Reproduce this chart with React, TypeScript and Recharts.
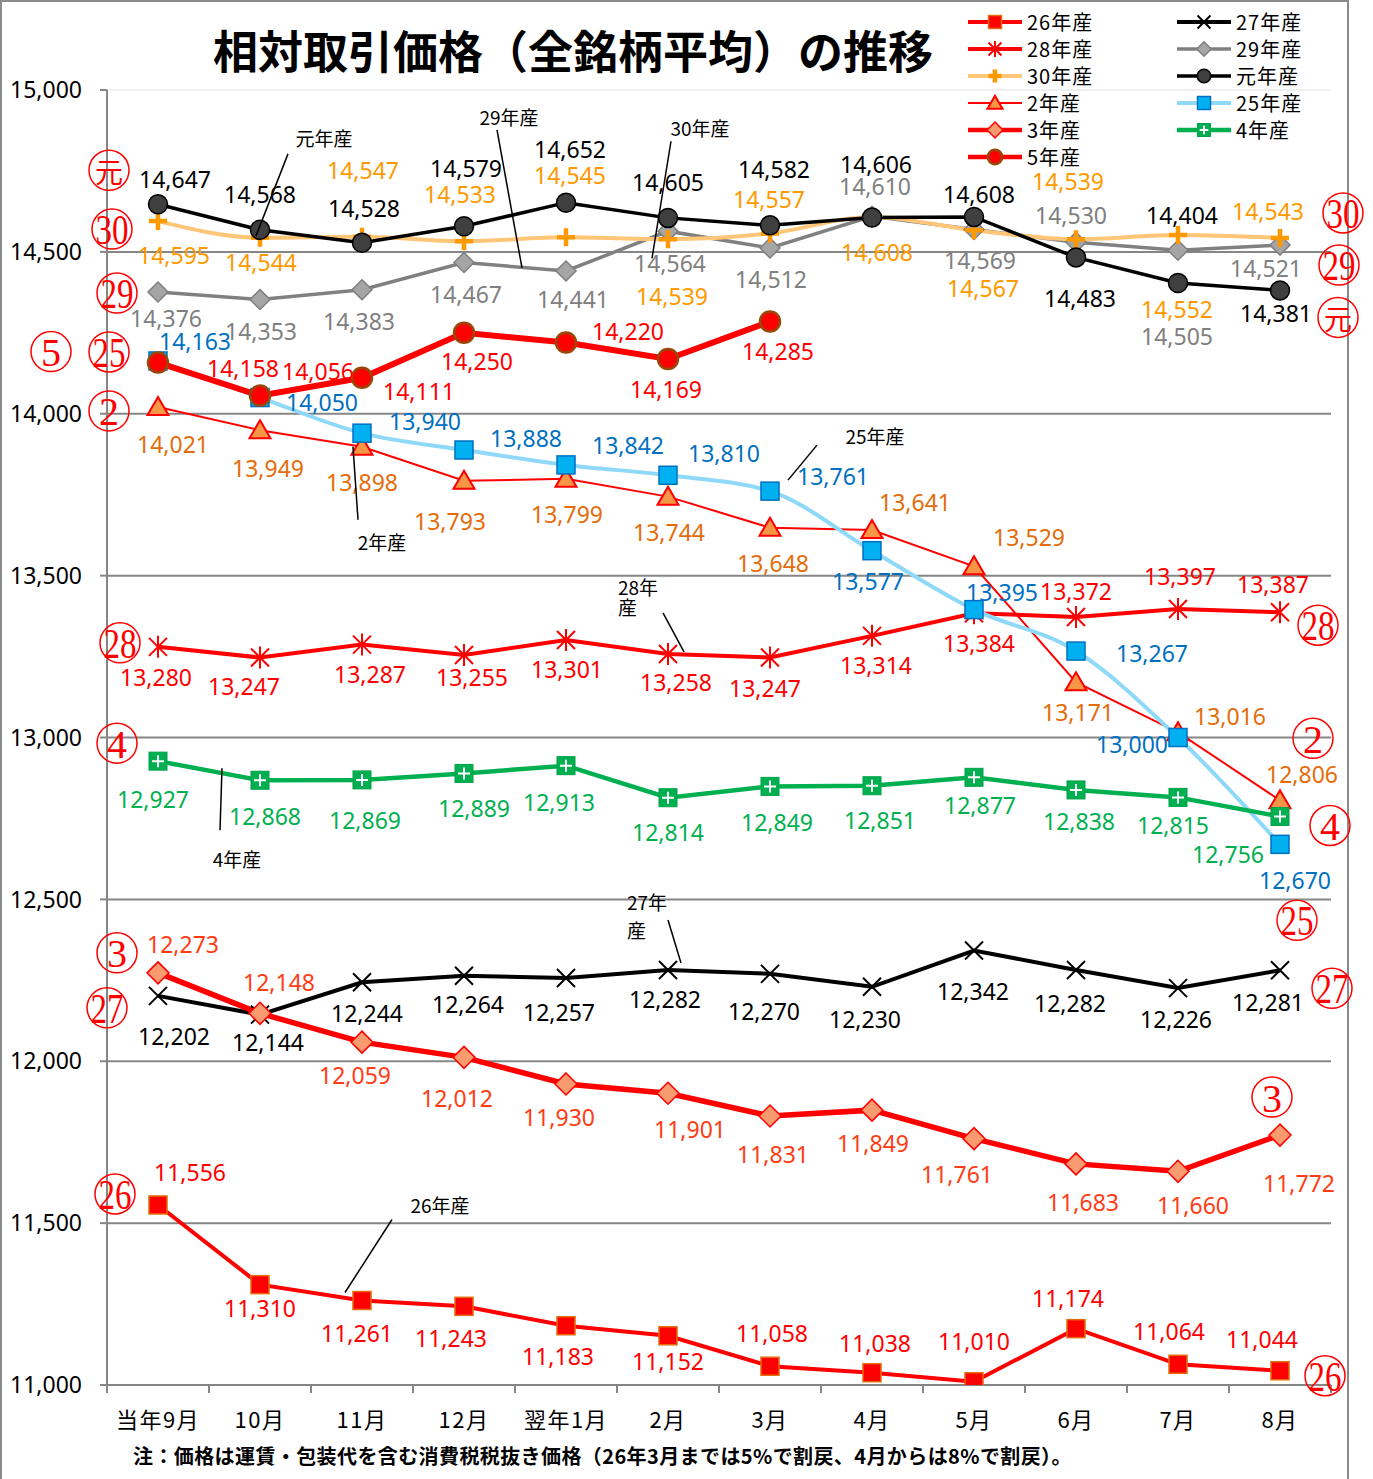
import React from "react";
import { LineChart, Line, XAxis, YAxis, ReferenceLine, LabelList, Legend } from "recharts";

const months = ["当年9月", "10月", "11月", "12月", "翌年1月", "2月", "3月", "4月", "5月", "6月", "7月", "8月"];
const yTicks = [11000, 11500, 12000, 12500, 13000, 13500, 14000, 14500, 15000];

// 相対取引価格 (円/60kg)
const v26 = [11556, 11310, 11261, 11243, 11183, 11152, 11058, 11038, 11010, 11174, 11064, 11044];
const v27 = [12202, 12144, 12244, 12264, 12257, 12282, 12270, 12230, 12342, 12282, 12226, 12281];
const v28 = [13280, 13247, 13287, 13255, 13301, 13258, 13247, 13314, 13384, 13372, 13397, 13387];
const v29 = [14376, 14353, 14383, 14467, 14441, 14564, 14512, 14610, 14569, 14530, 14505, 14521];
const v30 = [14595, 14544, 14547, 14533, 14545, 14539, 14557, 14608, 14567, 14539, 14552, 14543];
const vG = [14647, 14568, 14528, 14579, 14652, 14605, 14582, 14606, 14608, 14483, 14404, 14381];
const v2 = [14021, 13949, 13898, 13793, 13799, 13744, 13648, 13641, 13529, 13171, 13016, 12806];
const v25 = [14163, 14050, 13940, 13888, 13842, 13810, 13761, 13577, 13395, 13267, 13000, 12670];
const v3 = [12273, 12148, 12059, 12012, 11930, 11901, 11831, 11849, 11761, 11683, 11660, 11772];
const v4 = [12927, 12868, 12869, 12889, 12913, 12814, 12849, 12851, 12877, 12838, 12815, 12756];
const v5 = [14158, 14056, 14111, 14250, 14220, 14169, 14285];

// label offsets from each point (dx, dy)
const pos26 = [[32, -33], [0, 23], [-5, 32], [-13, 32], [-8, 30], [0, 25], [2, -33], [3, -30], [0, -41], [-8, -31], [-9, -33], [-18, -32]];
const pos27 = [[16, 40], [8, 27], [5, 31], [4, 28], [-7, 34], [-3, 29], [-6, 37], [-7, 32], [-1, 40], [-6, 33], [-2, 31], [-12, 32]];
const pos28 = [[-2, 30], [-16, 28], [8, 29], [8, 22], [1, 29], [8, 28], [-5, 30], [4, 29], [5, 30], [0, -26], [2, -33], [-7, -28]];
const pos29 = [[8, 26], [1, 32], [-3, 31], [2, 31], [7, 28], [2, 32], [1, 31], [3, -30], [6, 30], [-5, -27], [-1, 86], [-14, 23]];
const pos30 = [[16, 34], [1, 24], [1, -67], [-4, -47], [4, -62], [4, 57], [-1, -34], [5, 35], [9, 58], [-8, -58], [-1, 74], [-12, -27]];
const posG = [[17, -25], [0, -36], [2, -35], [2, -58], [4, -54], [0, -36], [4, -56], [4, -54], [5, -23], [4, 41], [4, -68], [-4, 23]];
const pos2 = [[15, 37], [8, 38], [0, 35], [-14, 40], [1, 35], [1, 35], [3, 35], [43, -28], [55, -29], [2, 30], [52, -16], [22, -26]];
const pos25 = [[37, -20], [62, 4], [63, -12], [62, -12], [62, -20], [56, -22], [63, -15], [-4, 30], [28, -18], [76, 2], [-46, 6], [15, 36]];
const pos3 = [[25, -29], [19, -31], [-7, 33], [-7, 41], [-7, 33], [22, 36], [3, 38], [1, 33], [-17, 35], [7, 38], [15, 34], [19, 48]];
const pos4 = [[-5, 38], [5, 36], [3, 40], [10, 35], [-7, 36], [0, 34], [7, 36], [8, 34], [6, 28], [3, 31], [-5, 28], [-52, 38]];
const pos5 = [[85, 5], [58, -25], [57, 13], [13, 28], [62, -12], [-2, 30], [8, 30]];

const CHART_W = 1373;
const CHART_H = 1479;
const Y_W = 107;
const RIGHT_M = 42;
const BAND = (CHART_W - Y_W - RIGHT_M) / months.length;

const NUM_FONT = "'Noto Sans', sans-serif";
const JP_FONT = "'Noto Sans CJK JP', sans-serif";
const GRID = "#868686";

type Callout = { i: number; text: string[]; tx: number; ty: number; gap?: number; anchor?: string; l: number[] };
type Series = {
  key: string; name: string; values: number[]; pos: number[][];
  stroke: string; width: number; curve: "linear" | "monotone"; kind: string; color: string;
  mark: string; left?: number[]; right?: number[]; callout?: Callout;
};

const series: Series[] = [
  { key: "s26", name: "26年産", values: v26, pos: pos26, stroke: "#FF0000", width: 4, curve: "linear", kind: "sq26", color: "#FF0000",
    mark: "26", left: [-43, -11], right: [45, 5], callout: { i: 2, text: ["26年産"], tx: 78, ty: -96, l: [30, -81, -17, -8] } },
  { key: "s27", name: "27年産", values: v27, pos: pos27, stroke: "#000000", width: 4, curve: "linear", kind: "x27", color: "#000000",
    mark: "27", left: [-51, 12], right: [52, 18], callout: { i: 5, text: ["27年", "産"], tx: -41, ty: -68, gap: 28, anchor: "start", l: [0, -50, 13, -7] } },
  { key: "s28", name: "28年産", values: v28, pos: pos28, stroke: "#FF0000", width: 4, curve: "linear", kind: "ast28", color: "#FF0000",
    mark: "28", left: [-38, -4], right: [38, 13], callout: { i: 5, text: ["28年", "産"], tx: -50, ty: -67, gap: 20, anchor: "start", l: [-5, -41, 16, -2] } },
  { key: "s29", name: "29年産", values: v29, pos: pos29, stroke: "#808080", width: 3.5, curve: "linear", kind: "dia29", color: "#808080",
    mark: "29", left: [-41, 1], right: [59, 20], callout: { i: 4, text: ["29年産"], tx: -57, ty: -154, l: [-69, -141, -44, -3] } },
  { key: "s30", name: "30年産", values: v30, pos: pos30, stroke: "#FFC677", width: 4, curve: "monotone", kind: "plus30", color: "#FF9900",
    mark: "30", left: [-46, 8], right: [63, -25], callout: { i: 5, text: ["30年産"], tx: 32, ty: -112, l: [3, -98, -16, 19] } },
  { key: "sG", name: "元年産", values: vG, pos: posG, stroke: "#000000", width: 3.5, curve: "linear", kind: "dotG", color: "#000000",
    mark: "元", left: [-49, -34], right: [58, 27], callout: { i: 1, text: ["元年産"], tx: 64, ty: -92, l: [28, -76, -4, 6] } },
  { key: "s2", name: "2年産", values: v2, pos: pos2, stroke: "#FF0000", width: 2, curve: "linear", kind: "tri2", color: "#E46C0A",
    mark: "2", left: [-49, 4], right: [33, -62], callout: { i: 2, text: ["2年産"], tx: 20, ty: 95, l: [-9, 0, -4, 73] } },
  { key: "s25", name: "25年産", values: v25, pos: pos25, stroke: "#8ED8F8", width: 4, curve: "monotone", kind: "sq25", color: "#0070C0",
    mark: "25", left: [-49, -9], right: [17, 76], callout: { i: 6, text: ["25年産"], tx: 105, ty: -56, l: [47, -46, 18, -11] } },
  { key: "s3", name: "3年産", values: v3, pos: pos3, stroke: "#FF0000", width: 5.5, curve: "linear", kind: "dia3", color: "#FF3C14",
    mark: "3", left: [-41, -20], right: [-8, -38] },
  { key: "s4", name: "4年産", values: v4, pos: pos4, stroke: "#00B050", width: 4.5, curve: "linear", kind: "sq4", color: "#00B050",
    mark: "4", left: [-41, -18], right: [50, 9], callout: { i: 1, text: ["4年産"], tx: -23, ty: 78, l: [-40, 50, -38, -12] } },
  { key: "s5", name: "5年産", values: v5, pos: pos5, stroke: "#FF0000", width: 6, curve: "linear", kind: "dot5", color: "#FF0000",
    mark: "5", left: [-107, -11] },
];

const data = months.map((m, i) => {
  const row: Record<string, any> = { month: m };
  series.forEach((s) => (row[s.key] = s.values[i] ?? null));
  return row;
});

function Marker({ kind, x, y, k = 1 }: { kind: string; x: number; y: number; k?: number }) {
  const h = 9 * k;
  switch (kind) {
    case "sq26":
      return <rect x={x - h} y={y - h} width={2 * h} height={2 * h} fill="#FF0000" stroke="#E46C0A" strokeWidth={1.5} />;
    case "x27":
      return <path d={`M${x - h},${y - h}L${x + h},${y + h}M${x - h},${y + h}L${x + h},${y - h}`} stroke="#000" strokeWidth={2} />;
    case "ast28":
      return (
        <path d={`M${x - h},${y - h}L${x + h},${y + h}M${x - h},${y + h}L${x + h},${y - h}M${x},${y - 11 * k}L${x},${y + 11 * k}`}
          stroke="#FF0000" strokeWidth={2} />
      );
    case "dia29":
      return <polygon points={`${x},${y - 10 * k} ${x + 10 * k},${y} ${x},${y + 10 * k} ${x - 10 * k},${y}`} fill="#A5A5A5" stroke="#7F7F7F" strokeWidth={1.5} />;
    case "plus30":
      return <path d={`M${x - h},${y}L${x + h},${y}M${x},${y - h}L${x},${y + h}`} stroke="#FF9900" strokeWidth={4.5} />;
    case "dotG":
      return <circle cx={x} cy={y} r={9.5 * k} fill="#3F3F3F" stroke="#000" strokeWidth={1.5} />;
    case "tri2":
      return <polygon points={`${x},${y - 10 * k} ${x + 10.5 * k},${y + 8 * k} ${x - 10.5 * k},${y + 8 * k}`} fill="#F79646" stroke="#FF0000" strokeWidth={2} />;
    case "sq25":
      return <rect x={x - h} y={y - h} width={2 * h} height={2 * h} fill="#00B0F0" stroke="#0070C0" strokeWidth={1.5} />;
    case "dia3":
      return <polygon points={`${x},${y - 11 * k} ${x + 11 * k},${y} ${x},${y + 11 * k} ${x - 11 * k},${y}`} fill="#FA9A6F" stroke="#FF0000" strokeWidth={1.5} />;
    case "sq4":
      return (
        <g>
          <rect x={x - h} y={y - h} width={2 * h} height={2 * h} fill="#00B050" stroke="#00A048" strokeWidth={1} />
          <path d={`M${x - 6 * k},${y}L${x + 6 * k},${y}M${x},${y - 6 * k}L${x},${y + 6 * k}`} stroke="#fff" strokeWidth={2} />
        </g>
      );
    case "dot5":
      return <circle cx={x} cy={y} r={10 * k} fill="#FF0000" stroke="#984807" strokeWidth={2.5} />;
    default:
      return null;
  }
}

function Circled({ x, y, text }: { x: number; y: number; text: string }) {
  const two = /^\d\d$/.test(text);
  const cjk = !/^\d+$/.test(text);
  return (
    <g>
      <circle cx={x} cy={y} r={20} fill="none" stroke="#FF0000" strokeWidth={1.5} />
      <text
        x={x}
        y={y + 1}
        textAnchor="middle"
        dominantBaseline="central"
        fill="#FF0000"
        fontFamily={cjk ? JP_FONT : "'Liberation Serif', 'DejaVu Serif', serif"}
        fontSize={cjk ? 28 : two ? 42 : 40}
        {...(two ? { textLength: 33, lengthAdjust: "spacingAndGlyphs" } : {})}
      >
        {text}
      </text>
    </g>
  );
}

const fmt = (v: number) => v.toLocaleString("en-US");

function makeLabel(s: Series) {
  const last = s.values.length - 1;
  return (p: any) => {
    const { x, y, value, index } = p;
    if (value == null || x == null || y == null || index > last) return null;
    const [dx, dy] = s.pos[index];
    const c = s.callout;
    return (
      <g>
        <text x={x + dx} y={y + dy} textAnchor="middle" dominantBaseline="central" fill={s.color} fontFamily={NUM_FONT} fontSize={23}>
          {fmt(value)}
        </text>
        {index === 0 && s.left && <Circled x={x + s.left[0]} y={y + s.left[1]} text={s.mark} />}
        {index === last && s.right && <Circled x={x + s.right[0]} y={y + s.right[1]} text={s.mark} />}
        {c && c.i === index && (
          <g>
            <line x1={x + c.l[0]} y1={y + c.l[1]} x2={x + c.l[2]} y2={y + c.l[3]} stroke="#000" strokeWidth={1.5} />
            {c.text.map((t, j) => (
              <text key={j} x={x + c.tx} y={y + c.ty + j * (c.gap ?? 0)} textAnchor={c.anchor ?? "middle"} dominantBaseline="central"
                fill="#000" fontFamily={JP_FONT} fontSize={19}>
                {t}
              </text>
            ))}
          </g>
        )}
      </g>
    );
  };
}

function makeDot(s: Series) {
  return (p: any) => {
    const k = `dot-${s.key}-${p.index}`;
    if (p.value == null || p.cx == null || p.cy == null) return <g key={k} />;
    return (
      <g key={k}>
        <Marker kind={s.kind} x={p.cx} y={p.cy} />
      </g>
    );
  };
}

function MonthTick(p: any) {
  const { x, y, payload } = p;
  const idx = p.index ?? payload.index;
  const half = BAND / 2;
  return (
    <g>
      <line x1={x - half} x2={x - half} y1={y} y2={y + 8} stroke={GRID} strokeWidth={2} />
      {idx === months.length - 1 && <line x1={x + half} x2={x + half} y1={y} y2={y + 8} stroke={GRID} strokeWidth={2} />}
      <text x={x} y={y + 33} textAnchor="middle" dominantBaseline="central" fill="#000" fontFamily={JP_FONT} fontSize={22} letterSpacing={1.5}>
        {payload.value}
      </text>
    </g>
  );
}

function LegendBox() {
  return (
    <div style={{ display: "grid", gridTemplateColumns: "209px 170px" }}>
      {series.map((s) => (
        <div key={s.key} style={{ display: "flex", alignItems: "center", height: 27 }}>
          <svg width={58} height={22} style={{ display: "block" }}>
            <line x1={2} x2={56} y1={11} y2={11} stroke={s.stroke} strokeWidth={Math.min(s.width, 4.5)} />
            <Marker kind={s.kind} x={29} y={11} k={0.72} />
          </svg>
          <span style={{ marginLeft: 3, fontSize: 20, fontFamily: JP_FONT, color: "#000", letterSpacing: 1, lineHeight: "22px" }}>{s.name}</span>
        </div>
      ))}
    </div>
  );
}

export default function App() {
  return (
    <div style={{ position: "absolute", left: 0, top: 0, width: CHART_W, height: CHART_H, background: "#fff", overflow: "hidden" }}>
      <div style={{ position: "absolute", left: 0, top: 0, width: 1349, height: CHART_H + 10, border: "2px solid #8a8a8a", boxSizing: "border-box" }} />
      <div style={{ position: "absolute", left: 0, top: 0 }}>
        <LineChart width={CHART_W} height={CHART_H} data={data} margin={{ top: 90, right: RIGHT_M, bottom: 0, left: 0 }}>
          {yTicks
            .filter((t) => t > yTicks[0])
            .map((t) => (
              <ReferenceLine key={t} y={t} stroke={t === yTicks[yTicks.length - 1] ? "#EFEFEF" : GRID} strokeWidth={2} />
            ))}
          <XAxis dataKey="month" height={94} interval={0} tickLine={false} tickSize={0} tickMargin={0}
            padding={{ left: BAND / 2, right: BAND / 2 }}
            axisLine={{ stroke: GRID, strokeWidth: 2 }} tick={<MonthTick />} />
          <YAxis domain={[yTicks[0], yTicks[yTicks.length - 1]]} ticks={yTicks} width={Y_W} tickSize={7} tickMargin={18}
            axisLine={{ stroke: GRID, strokeWidth: 2 }} tickLine={{ stroke: GRID, strokeWidth: 2 }}
            tick={{ fill: "#000", fontSize: 23, fontFamily: NUM_FONT }} tickFormatter={fmt} allowDataOverflow />
          {series.map((s) => (
            <Line key={s.key} dataKey={s.key} name={s.name} type={s.curve} stroke={s.stroke} strokeWidth={s.width}
              dot={makeDot(s)} activeDot={false} isAnimationActive={false} connectNulls={false}>
              <LabelList dataKey={s.key} content={makeLabel(s)} />
            </Line>
          ))}
          <Legend layout="vertical" align="center" verticalAlign="middle" content={<LegendBox />}
            wrapperStyle={{ top: 8, left: 966, width: 400, height: 170 }} />
        </LineChart>
      </div>
      <div style={{ position: "absolute", left: 213, top: 27, fontSize: 45, lineHeight: "46px", fontWeight: 700, fontFamily: JP_FONT, color: "#000", whiteSpace: "nowrap" }}>
        相対取引価格（全銘柄平均）の推移
      </div>
      <div style={{ position: "absolute", left: 133, top: 1444, fontSize: 20, lineHeight: "24px", fontWeight: 700, fontFamily: JP_FONT, color: "#000", whiteSpace: "nowrap", letterSpacing: 0.4 }}>
        注：価格は運賃・包装代を含む消費税税抜き価格（26年3月までは5%で割戻、4月からは8%で割戻）。
      </div>
    </div>
  );
}
